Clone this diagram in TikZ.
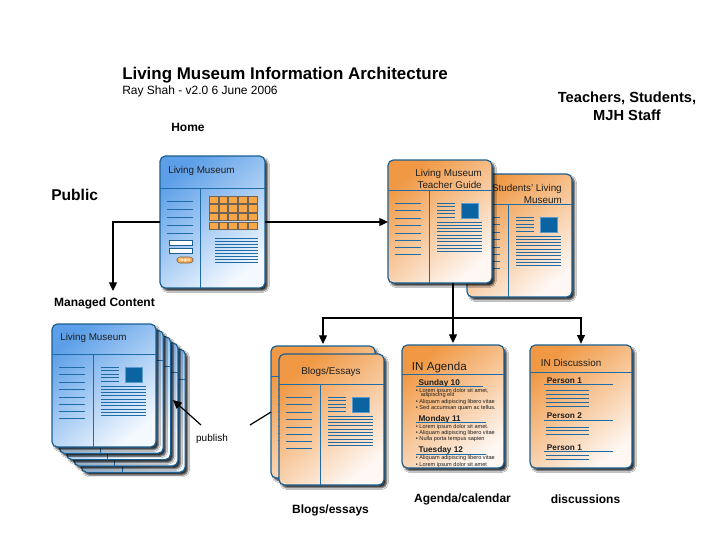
\documentclass[tikz,border=0pt]{standalone}
\usepackage{fontspec}
\setmainfont{Liberation Sans}
\usetikzlibrary{arrows.meta,shadows.blur}
\definecolor{bord}{HTML}{1B5F91}
\definecolor{lnc}{HTML}{1E6BA6}
\definecolor{bluetop}{HTML}{5C9FE8}
\definecolor{bluebot}{HTML}{F4F9FF}
\definecolor{ortop}{HTML}{F09843}
\definecolor{orbot}{HTML}{FEF7F3}
\definecolor{sqc}{HTML}{0B64A2}
\definecolor{sqe}{HTML}{5C9BD0}
\definecolor{gridc}{HTML}{F7A748}
\definecolor{gride}{HTML}{6F6256}
\definecolor{txt}{HTML}{1E1E1E}
\newcommand\cpage[3]{%
  \begin{scope}[shift={(#1.north west)}]
    \draw[ln] (0,30) -- (#2,30);
    \draw[ln] (41,30) -- (41,#3);
    \foreach \y in {43,50,58,65,73,80,87,94} \draw[ln] (7,\y) -- (33,\y);
    \foreach \y in {43,46.5,50,53.5,57} \draw[ln] (49,\y) -- (67,\y);
    \draw[sqs] (73,43) rectangle (90,58);
    \foreach \i in {0,...,9} \draw[ln] (49,{62+3.3*\i}) -- (94,{62+3.3*\i});
  \end{scope}}
\begin{document}
\begin{tikzpicture}[x=0.75pt,y=-0.75pt,
  page/.style={rectangle, rounded corners=4pt, draw=bord, line width=0.9pt,
    inner sep=0pt, outer sep=0pt, anchor=north west,
    blur shadow={shadow xshift=2pt, shadow yshift=-2.2pt, shadow blur radius=1.3pt, shadow opacity=80}},
  pagesize/.style 2 args={minimum width=#1*0.75pt, minimum height=#2*0.75pt},
  bluepage/.style={page, top color=bluetop, bottom color=bluebot, shading angle=40},
  orpage/.style={page, top color=ortop, bottom color=orbot, shading angle=40},
  ln/.style={draw=lnc, line width=0.7pt},
  sqs/.style={fill=sqc, draw=sqe, line width=0.6pt},
  cell/.style={fill=gridc, draw=gride, line width=0.4pt},
  arr/.style={draw=black, line width=0.9pt, -{Triangle[length=6.5pt,width=6pt]}},
  conn/.style={draw=black, line width=0.9pt},
  ptitle/.style={text=txt, inner sep=0pt, font=\fontsize{7.4}{9}\selectfont},
  lbl/.style={text=black, inner sep=0pt, font=\fontsize{9}{10}\selectfont\bfseries},
  bul/.style={text=txt, inner sep=0pt, anchor=west, font=\fontsize{4.2}{5}\selectfont},
  day/.style={text=txt, inner sep=0pt, anchor=base west, font=\fontsize{6.2}{7}\selectfont\bfseries},
]
\useasboundingbox[fill=white] (0,0) rectangle (727,533);

% ---- titles and labels
\node[anchor=west, inner sep=0pt, font=\fontsize{12.7}{14}\selectfont\bfseries] (title) at (122,75) {Living Museum Information Architecture};
\node[anchor=west, inner sep=0pt, font=\fontsize{9}{10}\selectfont] (sub) at (122,91) {Ray Shah - v2.0 6 June 2006};
\node[lbl, anchor=west] (homelab) at (171,127) {Home};
\node[anchor=west, inner sep=0pt, font=\fontsize{11.7}{13}\selectfont\bfseries] (public) at (51,194.5) {Public};
\node[align=center, inner sep=0pt, font=\fontsize{11}{13.5}\selectfont\bfseries] (tsm) at (627,106) {Teachers, Students,\\MJH Staff};
\node[lbl] (mclab) at (104.5,303) {Managed Content};
\node[lbl] (bllab) at (330.5,510) {Blogs/essays};
\node[lbl] (aglab) at (462.5,499) {Agenda/calendar};
\node[lbl] (dilab) at (585.5,499) {discussions};
\node[inner sep=0pt, font=\fontsize{7.5}{9}\selectfont] (pub) at (212,439) {publish};

% ---- Home page
\node[bluepage, pagesize={105}{132}] (home) at (160,156) {};
\begin{scope}[shift={(home.north west)}]
  \node[ptitle, anchor=west] at (8,15) {Living Museum};
  \draw[ln] (0,32) -- (105,32);
  \draw[ln] (40,32) -- (40,132);
  \foreach \y in {45.5,53,61,69,77} \draw[ln] (7,\y) -- (33,\y);
  \draw[fill=white, draw=bord, line width=0.5pt] (9,84) rectangle (32,89);
  \draw[fill=white, draw=bord, line width=0.5pt] (9,92) rectangle (32,97);
  \draw[fill=gridc, draw=gride, line width=0.4pt, rounded corners=2.3pt] (17,101) rectangle (33,107);
  \node[text=white, inner sep=0pt, font=\fontsize{3.5}{4}\selectfont\bfseries] at (25,104) {login};
  \foreach \i in {0,...,4} \foreach \j in {0,...,3}
    \draw[cell] ({49+9.8*\i},{40+8.6*\j}) rectangle ++(8.8,7.4);
  \foreach \i in {0,...,8} \draw[ln] (55,{82+3.05*\i}) -- (98,{82+3.05*\i});
\end{scope}

% ---- Students / Teacher guide
\node[orpage, pagesize={105}{123}] (st) at (467,174) {};
\cpage{st}{105}{123}
\begin{scope}[shift={(st.north west)}]
  \node[ptitle, anchor=east, align=right] at (95,19.5) {Students' Living\\Museum};
\end{scope}
\node[orpage, pagesize={104}{123}] (tg) at (388,160) {};
\cpage{tg}{104}{123}
\begin{scope}[shift={(tg.north west)}]
  \node[ptitle, anchor=east, align=right] at (94,19) {Living Museum\\Teacher Guide};
\end{scope}

% ---- Managed content stack
\foreach \k in {5,4,3,2,1}{
  \node[bluepage, pagesize={104}{123}] (mc\k) at ({52+7.3*(\k-1)},{324+6.3*(\k-1)}) {};
  \cpage{mc\k}{104}{123}
}
\begin{scope}[shift={(mc1.north west)}]
  \node[ptitle, anchor=west] at (8,14) {Living Museum};
\end{scope}

% ---- Blogs
\node[orpage, pagesize={104}{132}] (blb) at (271,346) {};
\cpage{blb}{104}{132}
\node[orpage, pagesize={105}{131}] (blf) at (279,354) {};
\cpage{blf}{105}{131}
\begin{scope}[shift={(blf.north west)}]
  \node[ptitle] at (52,18) {Blogs/Essays};
\end{scope}

% ---- Agenda
\node[orpage, pagesize={102}{123}] (ag) at (402,345) {};
\begin{scope}[shift={(ag.north west)}]
  \node[ptitle, anchor=base west, font=\fontsize{8.7}{10}\selectfont] at (9.7,25) {IN Agenda};
  \draw[ln] (0,29.3) -- (102,29.3);
  \node[day] at (16.3,40.3) {Sunday 10};
  \draw[ln] (13.7,41.7) -- (81.3,41.7);
  \node[bul] at (13.7,45.7) {• Lorem ipsum dolor sit amet,};
  \node[bul] at (18.5,50.5) {adipiscing elit};
  \node[bul] at (13.7,57) {• Aliquam adipiscing libero vitae};
  \node[bul] at (13.7,63) {• Sed accumsan quam ac tellus.};
  \node[day] at (16.3,76.5) {Monday 11};
  \draw[ln] (13.7,77.8) -- (83.7,77.8);
  \node[bul] at (13.7,81.8) {• Lorem ipsum dolor sit amet.};
  \node[bul] at (13.7,87.8) {• Aliquam adipiscing libero vitae};
  \node[bul] at (13.7,94) {• Nulla porta tempus sapien};
  \node[day] at (16.3,107.8) {Tuesday 12};
  \draw[ln] (13.7,109.2) -- (83.7,109.2);
  \node[bul] at (13.7,113.5) {• Aliquam adipiscing libero vitae};
  \node[bul] at (13.7,120) {• Lorem ipsum dolor sit amet};
\end{scope}

% ---- Discussion
\node[orpage, pagesize={102}{123}] (di) at (530,345) {};
\begin{scope}[shift={(di.north west)}]
  \node[ptitle, anchor=base west] at (10.7,21.7) {IN Discussion};
  \draw[ln] (0,27.3) -- (102,27.3);
  \node[day] at (16.7,38.3) {Person 1};
  \draw[ln] (14,39.3) -- (82.7,39.3);
  \foreach \y in {45,49,53,57,61} \draw[ln] (15.7,\y) -- (59,\y);
  \node[day] at (16.7,73.3) {Person 2};
  \draw[ln] (14,75) -- (82.7,75);
  \foreach \y in {82.3,85.7,89} \draw[ln] (15.7,\y) -- (59,\y);
  \node[day] at (16.7,105) {Person 1};
  \draw[ln] (14,106.7) -- (82.7,106.7);
  \foreach \y in {110,114} \draw[ln] (15.7,\y) -- (59,\y);
\end{scope}

% ---- connectors
\coordinate (mcin) at (113,291);
\draw[arr] (home.west) -| (mcin);
\draw[arr] (home.east) -- (home.east -| tg.west);
\coordinate (jn) at (ag.north |- 0,318);
\draw[conn] (tg.south -| jn) -- (jn);
\draw[arr, shorten >=1.5pt] (jn) -- (ag.north);
\draw[arr, shorten >=1.5pt] (jn) -| (blb.north);
\draw[arr, shorten >=1pt] (jn) -| (di.north);
\coordinate (pubL) at (201,425);
\coordinate (pubR) at (250,425);
\coordinate (mctip) at (173,400);
\draw[arr] (pubL) -- (mctip);
\draw[conn] (pubR) -- (blb.west);
\end{tikzpicture}
\end{document}
